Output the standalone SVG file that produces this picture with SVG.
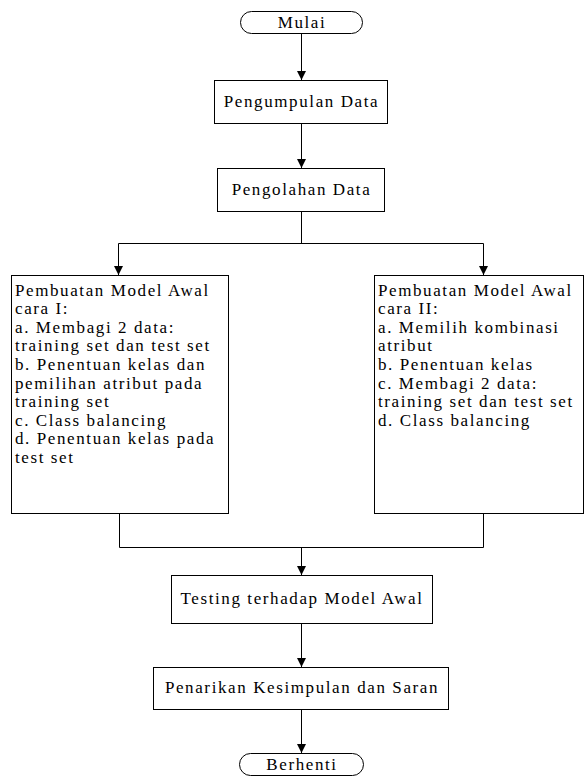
<svg xmlns="http://www.w3.org/2000/svg" width="585" height="778" viewBox="0 0 585 778">
<style>
text{font-family:"Liberation Serif","Times New Roman",serif;font-size:17px;letter-spacing:1.6px;fill:#000}
.c{text-anchor:middle}
.box{fill:#fff;stroke:#000;stroke-width:1}
.ln{fill:none;stroke:#000;stroke-width:1}
</style>
<defs>
<marker id="ah" markerWidth="10" markerHeight="10" refX="9" refY="5" orient="auto" markerUnits="userSpaceOnUse">
<path d="M0,0.5 L9,5 L0,9.5 Z" fill="#000"/>
</marker>
</defs>
<rect width="585" height="778" fill="#fff"/>
<g id="connectors">
<path class="ln" d="M301.5,33 V80" marker-end="url(#ah)"/>
<path class="ln" d="M301.5,123 V168" marker-end="url(#ah)"/>
<path class="ln" d="M301.5,211 V243.5"/>
<path class="ln" d="M118.5,243.5 H483.5"/>
<path class="ln" d="M118.5,243.5 V275" marker-end="url(#ah)"/>
<path class="ln" d="M483.5,243.5 V275" marker-end="url(#ah)"/>
<path class="ln" d="M119.5,513 V547.5 H483.5 V513"/>
<path class="ln" d="M301.5,547.5 V575" marker-end="url(#ah)"/>
<path class="ln" d="M301.5,623 V667" marker-end="url(#ah)"/>
<path class="ln" d="M301.5,709 V753" marker-end="url(#ah)"/>
</g>
<g id="mulai">
<rect class="box" x="240.5" y="11.5" width="122" height="22" rx="11" ry="11"/>
<text class="c" x="302" y="28">Mulai</text>
</g>
<g id="pengumpulan">
<rect class="box" x="214.5" y="80.5" width="173" height="43"/>
<text class="c" x="301.5" y="107">Pengumpulan Data</text>
</g>
<g id="pengolahan">
<rect class="box" x="217.5" y="168.5" width="167" height="43"/>
<text class="c" x="301.5" y="195">Pengolahan Data</text>
</g>
<g id="model1">
<rect class="box" x="11.5" y="275.5" width="217" height="238"/>
<text x="15" y="295.5">Pembuatan Model Awal</text>
<text x="15" y="314.1">cara I:</text>
<text x="15" y="332.7">a. Membagi 2 data:</text>
<text x="15" y="351.3">training set dan test set</text>
<text x="15" y="369.9">b. Penentuan kelas dan</text>
<text x="15" y="388.5">pemilihan atribut pada</text>
<text x="15" y="407.1">training set</text>
<text x="15" y="425.7">c. Class balancing</text>
<text x="15" y="444.3">d. Penentuan kelas pada</text>
<text x="15" y="462.9">test set</text>
</g>
<g id="model2">
<rect class="box" x="374.5" y="275.5" width="209" height="238"/>
<text x="378" y="295.5">Pembuatan Model Awal</text>
<text x="378" y="314.1">cara II:</text>
<text x="378" y="332.7">a. Memilih kombinasi</text>
<text x="378" y="351.3">atribut</text>
<text x="378" y="369.9">b. Penentuan kelas</text>
<text x="378" y="388.5">c. Membagi 2 data:</text>
<text x="378" y="407.1">training set dan test set</text>
<text x="378" y="425.7">d. Class balancing</text>
</g>
<g id="testing">
<rect class="box" x="171.5" y="575.5" width="261" height="48"/>
<text class="c" x="302" y="604">Testing terhadap Model Awal</text>
</g>
<g id="penarikan">
<rect class="box" x="153.5" y="667.5" width="295" height="42"/>
<text class="c" x="302" y="693">Penarikan Kesimpulan dan Saran</text>
</g>
<g id="berhenti">
<rect class="box" x="239.5" y="753.5" width="124" height="22" rx="11" ry="11"/>
<text class="c" x="302" y="770">Berhenti</text>
</g>
</svg>
